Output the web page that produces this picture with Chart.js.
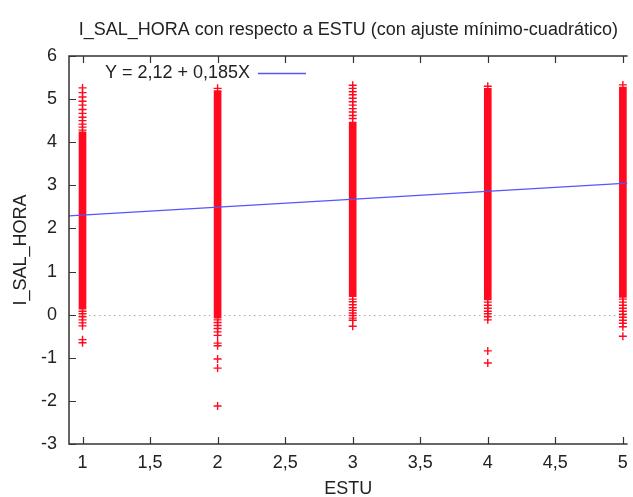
<!DOCTYPE html>
<html>
<head>
<meta charset="utf-8">
<script src="https://cdn.jsdelivr.net/npm/chart.js@4"></script>
<style>
  html, body { margin: 0; padding: 0; background: #fff; overflow: hidden; }
  #wrap { width: 633px; height: 497px; }
</style>
</head>
<body>
<div id="wrap"><canvas id="myChart" width="633" height="497"></canvas></div>
<script>
// datos
var categories = [1, 2, 3, 4, 5];
// tramo denso (se ve como columna solida)
var bandLow = [0.13, -0.08, 0.42, 0.34, 0.40];
var bandHigh = [4.24, 5.20, 4.47, 5.25, 5.28];
// puntos sueltos por encima / debajo de cada columna
var sparse1 = [5.26, 5.15, 5.05, 4.95, 4.86, 4.76, 4.67, 4.58, 4.50, 4.42, 4.35, 4.28, 0.08, 0.02, -0.05, -0.12, -0.19, -0.26, -0.58, -0.65];
var sparse2 = [5.25, -0.12, -0.18, -0.25, -0.32, -0.40, -0.48, -0.66, -0.72, -1.03, -1.24, -2.12];
var sparse3 = [5.32, 5.25, 5.17, 5.10, 5.02, 4.94, 4.86, 4.78, 4.70, 4.62, 4.55, 0.36, 0.30, 0.23, 0.16, 0.10, 0.04, -0.02, -0.08, -0.13, -0.27];
var sparse4 = [5.30, 0.29, 0.22, 0.15, 0.08, 0.02, -0.05, -0.12, -0.84, -1.12];
var sparse5 = [5.33, 0.36, 0.29, 0.22, 0.15, 0.08, 0.01, -0.06, -0.13, -0.20, -0.28, -0.50];
// recta de minimos cuadrados
var fitLabel = 'Y = 2,12 + 0,185X';
var fitX = [0.9, 5.035];
var fitY = [2.29, 3.05];
// ticks
var xTicks = [1, 1.5, 2, 2.5, 3, 3.5, 4, 4.5, 5];
var yTicks = [-3, -2, -1, 0, 1, 2, 3, 4, 5, 6];

var RED = 'rgb(255, 10, 30)';
var BLUE = 'rgb(85, 85, 255)';
var INK = '#222';
var FONT = "'Liberation Sans', Arial, sans-serif";

function puntosSueltos() {
    var listas = [sparse1, sparse2, sparse3, sparse4, sparse5];
    var pts = [];
    for (var i = 0; i < categories.length; i++) {
        for (var j = 0; j < listas[i].length; j++) {
            pts.push({ x: categories[i], y: listas[i][j] });
        }
    }
    return pts;
}

// borde, ticks hacia dentro, linea del cero y leyenda estilo gnuplot
var marco = {
    id: 'marco',
    beforeDatasetsDraw: function (chart) {
        var ctx = chart.ctx, a = chart.chartArea, y0 = chart.scales.y.getPixelForValue(0);
        ctx.save();
        ctx.strokeStyle = '#aaa';
        ctx.lineWidth = 1;
        ctx.setLineDash([1.5, 3.5]);
        ctx.beginPath();
        ctx.moveTo(a.left, Math.round(y0) + 0.5);
        ctx.lineTo(a.right, Math.round(y0) + 0.5);
        ctx.stroke();
        ctx.restore();
    },
    afterDraw: function (chart) {
        var ctx = chart.ctx, a = chart.chartArea;
        var xs = chart.scales.x, ys = chart.scales.y;
        ctx.save();
        ctx.strokeStyle = '#333';
        ctx.lineWidth = 1.5;
        ctx.beginPath();
        ctx.moveTo(a.right, a.top);
        ctx.lineTo(a.left, a.top);
        ctx.lineTo(a.left, a.bottom);
        ctx.lineTo(a.right, a.bottom);
        ctx.stroke();
        ctx.lineWidth = 1.2;
        ctx.beginPath();
        xTicks.forEach(function (v) {
            var px = Math.round(xs.getPixelForValue(v)) + 0.5;
            ctx.moveTo(px, a.bottom); ctx.lineTo(px, a.bottom - 7);
            ctx.moveTo(px, a.top); ctx.lineTo(px, a.top + 7);
        });
        yTicks.forEach(function (v) {
            var py = Math.round(ys.getPixelForValue(v)) + 0.5;
            ctx.moveTo(a.left, py); ctx.lineTo(a.left + 7, py);
        });
        ctx.stroke();
        // leyenda
        var ly = Math.round(a.top + 17);
        ctx.fillStyle = INK;
        ctx.font = '18px ' + FONT;
        ctx.textAlign = 'right';
        ctx.textBaseline = 'middle';
        ctx.fillText(chart.data.datasets[0].label, a.left + 181, ly);
        ctx.strokeStyle = BLUE;
        ctx.lineWidth = 1.3;
        ctx.beginPath();
        ctx.moveTo(a.left + 189, ly + 0.5);
        ctx.lineTo(a.left + 237, ly + 0.5);
        ctx.stroke();
        ctx.restore();
    }
};

function VeGrafico() {
    Chart.defaults.font.family = FONT;
    Chart.defaults.font.size = 18;
    Chart.defaults.color = INK;

    new Chart('myChart', {
        type: 'scatter',
        data: {
            datasets: [{
                type: 'line',
                label: fitLabel,
                data: fitX.map(function (x, i) { return { x: x, y: fitY[i] }; }),
                borderColor: BLUE,
                borderWidth: 1.2,
                pointRadius: 0,
                fill: false
            }, {
                type: 'scatter',
                label: 'sueltos',
                data: puntosSueltos(),
                pointStyle: 'cross',
                pointRadius: 4,
                borderColor: RED,
                backgroundColor: RED,
                borderWidth: 1.4
            }, {
                type: 'bar',
                label: 'denso',
                data: categories.map(function (c, i) { return { x: c, y: [bandLow[i], bandHigh[i]] }; }),
                backgroundColor: RED,
                borderWidth: 0,
                barThickness: 7
            }]
        },
        options: {
            responsive: false,
            animation: false,
            layout: { padding: 0 },
            plugins: {
                legend: { display: false },
                tooltip: { enabled: false },
                title: {
                    display: true,
                    fullSize: false,
                    text: 'I_SAL_HORA con respecto a ESTU (con ajuste mínimo-cuadrático)',
                    font: { size: 18, weight: 'normal' },
                    color: INK,
                    padding: { top: 19, bottom: 15.4 }
                }
            },
            scales: {
                x: {
                    type: 'linear',
                    min: 0.9,
                    max: 5.035,
                    offset: false,
                    grid: { display: false, drawTicks: false },
                    border: { display: false },
                    afterBuildTicks: function (s) { s.ticks = xTicks.map(function (v) { return { value: v }; }); },
                    afterFit: function (s) { s.height = 53; s.paddingLeft = 0; s.paddingRight = 0; },
                    ticks: {
                        padding: 8,
                        maxRotation: 0,
                        autoSkip: false,
                        callback: function (v) { return String(v).replace('.', ','); }
                    },
                    title: { display: true, text: 'ESTU', padding: { top: 0, bottom: -3 } }
                },
                y: {
                    type: 'linear',
                    min: -3,
                    max: 6,
                    grid: { display: false, drawTicks: false },
                    border: { display: false },
                    afterBuildTicks: function (s) { s.ticks = yTicks.map(function (v) { return { value: v }; }); },
                    afterFit: function (s) { s.width = 69; s.paddingTop = 0; s.paddingBottom = 0; },
                    ticks: { padding: 12 },
                    title: { display: true, text: 'I_SAL_HORA', padding: { top: 10, bottom: 0 } }
                }
            }
        },
        plugins: [marco]
    });
}

VeGrafico();
</script>
</body>
</html>
